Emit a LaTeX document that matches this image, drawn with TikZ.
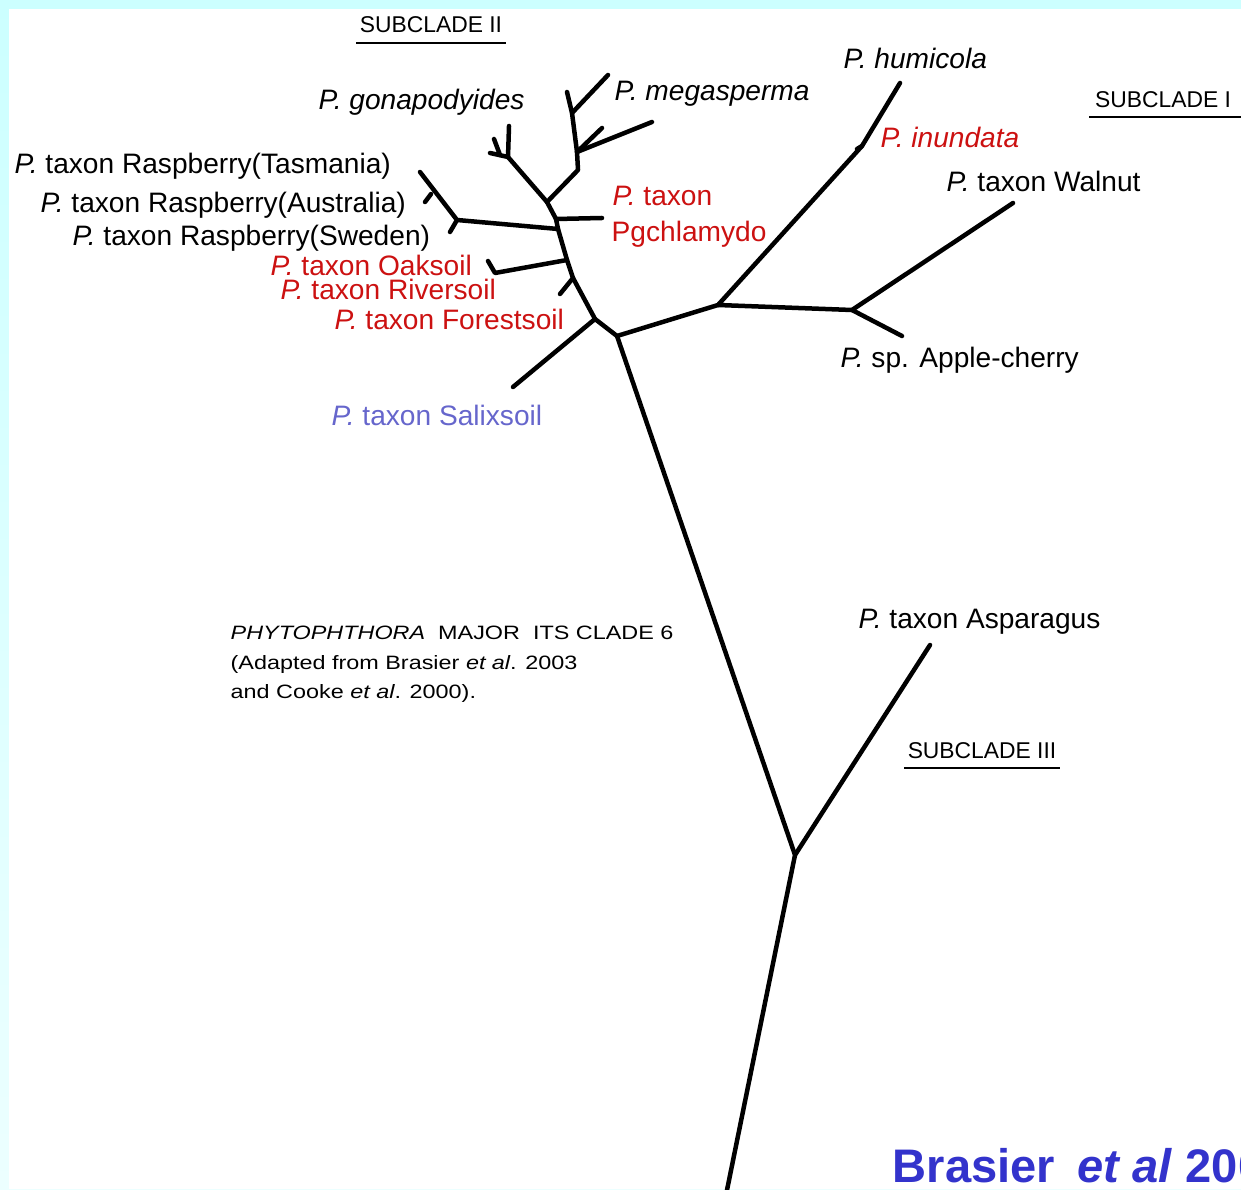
\documentclass[tikz,border=0pt]{standalone}
\usepackage{fontspec}
\setmainfont{Liberation Sans}
\newfontfamily\capfont[FakeStretch=1.21]{Liberation Sans}
\usetikzlibrary{calc}
\definecolor{bgcyan}{RGB}{204,255,255}
\definecolor{bgpale}{RGB}{236,255,255}
\definecolor{taxred}{RGB}{204,17,17}
\definecolor{salixblue}{RGB}{102,102,204}
\definecolor{refblue}{RGB}{51,51,204}
\tikzset{
  branch/.style={line width=0.45mm, line cap=round, line join=round},
  lbl/.style={anchor=base west, inner sep=0pt, font=\fontsize{8}{9.6}\selectfont},
  redlbl/.style={lbl, text=taxred},
  sublbl/.style={anchor=base, inner sep=0pt, font=\fontsize{6.5}{8}\selectfont},
  uline/.style={line width=0.2mm},
  caplbl/.style={anchor=base west, inner sep=0pt, font=\capfont\fontsize{5.5}{7}\selectfont}
}

\begin{document}
\begin{tikzpicture}[x=0.1mm, y=-0.1mm]
  \useasboundingbox (0,0) rectangle (1241,1189);
  \clip (0,0) rectangle (1241,1189);
  \shade[top color=bgcyan, bottom color=bgpale] (0,0) rectangle (1241,1189);
  \fill[white] (9,9) rectangle (1241,1189);

  % branch points and tips
  \coordinate (root) at (726,1195);
  \coordinate (n3) at (795,855);
  \coordinate (asp) at (930,645);
  \coordinate (nA) at (617,336);
  \coordinate (nB) at (595,319);
  \coordinate (salix) at (513,387);
  \coordinate (nR) at (573,278);
  \coordinate (river) at (560,294);
  \coordinate (nO) at (567,260);
  \coordinate (oakb) at (495,273);
  \coordinate (oak) at (488,261);
  \coordinate (nRs) at (558,229);
  \coordinate (nPg) at (556,219);
  \coordinate (pgch) at (602,218);
  \coordinate (nD) at (547,202);
  \coordinate (rasp) at (457,220);
  \coordinate (tas) at (420,172);
  \coordinate (ausb) at (431,194);
  \coordinate (aus) at (425,202);
  \coordinate (swe) at (450,232);
  \coordinate (gon) at (508,157);
  \coordinate (gon1) at (509,126);
  \coordinate (gon2) at (490,153);
  \coordinate (gonb) at (500,155);
  \coordinate (gon3) at (494,139);
  \coordinate (m1) at (578,170);
  \coordinate (m2) at (577,152);
  \coordinate (m3) at (572,113);
  \coordinate (meg1) at (652,122);
  \coordinate (meg2) at (602,128);
  \coordinate (meg3) at (567,92);
  \coordinate (meg4) at (608,75);
  \coordinate (nC) at (718,305);
  \coordinate (inu) at (862,146);
  \coordinate (inut) at (857,149);
  \coordinate (hum) at (900,83);
  \coordinate (nE) at (852,310);
  \coordinate (wal) at (1013,203);
  \coordinate (app) at (902,336);

  % tree
  \draw[branch] (root) -- (n3) -- (nA) -- (nB) -- (nR) -- (nO) -- (nRs) -- (nPg) -- (nD);
  \draw[branch] (n3) -- (asp);
  \draw[branch] (nB) -- (salix);
  \draw[branch] (nR) -- (river);
  \draw[branch] (nO) -- (oakb) -- (oak);
  \draw[branch] (nPg) -- (pgch);
  \draw[branch] (nRs) -- (rasp) -- (tas);
  \draw[branch] (ausb) -- (aus);
  \draw[branch] (rasp) -- (swe);
  \draw[branch] (nD) -- (gon) -- (gon1);
  \draw[branch] (gon) -- (gon2);
  \draw[branch] (gonb) -- (gon3);
  \draw[branch] (nD) -- (m1) -- (m2) -- (m3) -- (meg3);
  \draw[branch] (m2) -- (meg1);
  \draw[branch] (m2) -- (meg2);
  \draw[branch] (m3) -- (meg4);
  \draw[branch] (nA) -- (nC) -- (inu) -- (hum);
  \draw[branch] (inu) -- (inut);
  \draw[branch] (nC) -- (nE) -- (wal);
  \draw[branch] (nE) -- (app);

  % subclade headings
  \node[sublbl] (s2) at (431,33) {SUBCLADE II};
  \draw[uline] ([xshift=-0.3mm, yshift=-1mm]s2.base west) -- ([xshift=0.3mm, yshift=-1mm]s2.base east);
  \node[sublbl] (s1) at (1163,108) {SUBCLADE I};
  \draw[uline] ([xshift=-0.5mm, yshift=-0.9mm]s1.base west) -- ([xshift=1mm, yshift=-0.9mm]s1.base east);
  \node[sublbl] (s3) at (982,758) {SUBCLADE III};
  \draw[uline] ([xshift=-0.3mm, yshift=-1mm]s3.base west) -- ([xshift=0.3mm, yshift=-1mm]s3.base east);

  % taxa
  \node[lbl] (lGon) at (318,110) {\textit{P. gonapodyides}};
  \node[lbl] (lMeg) at (614,101) {\textit{P. megasperma}};
  \node[lbl] (lHum) at (843,69) {\textit{P. humicola}};
  \node[redlbl] (lInu) at (880,148) {\textit{P. inundata}};
  \node[lbl] (lWal) at (946,192) {\textit{P.} taxon Walnut};
  \node[lbl] (lApp) at (840,368) {\textit{P.} sp. Apple-cherry};
  \node[lbl] (lAsp) at (858,628) {\textit{P.} taxon Asparagus};
  \node[redlbl] (lPg) at (612,206) {\textit{P.} taxon};
  \node[redlbl] (lPgb) at (611,242) {Pgchlamydo};
  \node[lbl] (lTas) at (14,174) {\textit{P.} taxon Raspberry(Tasmania)};
  \node[lbl] (lAus) at (40,213) {\textit{P.} taxon Raspberry(Australia)};
  \node[lbl] (lSwe) at (72,246) {\textit{P.} taxon Raspberry(Sweden)};
  \node[redlbl] (lOak) at (270,276) {\textit{P.} taxon Oaksoil};
  \node[redlbl] (lRiv) at (280,300) {\textit{P.} taxon Riversoil};
  \node[redlbl] (lFor) at (334,330) {\textit{P.} taxon Forestsoil};
  \node[lbl, text=salixblue] (lSal) at (331,426) {\textit{P.} taxon Salixsoil};

  % caption
  \node[caplbl] (cap1) at (230,639) {\textit{PHYTOPHTHORA}\ \ MAJOR\ \ ITS CLADE 6};
  \node[caplbl] (cap2) at (230,669) {(Adapted from Brasier \textit{et al}. 2003};
  \node[caplbl] (cap3) at (230,698) {and Cooke \textit{et al}. 2000).};

  \node[anchor=base west, inner sep=0pt, text=refblue, font=\bfseries\fontsize{13.4}{16}\selectfont] (ref) at (892,1182) {Brasier\hspace{0.2em} \textit{et al} 2003};
\end{tikzpicture}
\end{document}
